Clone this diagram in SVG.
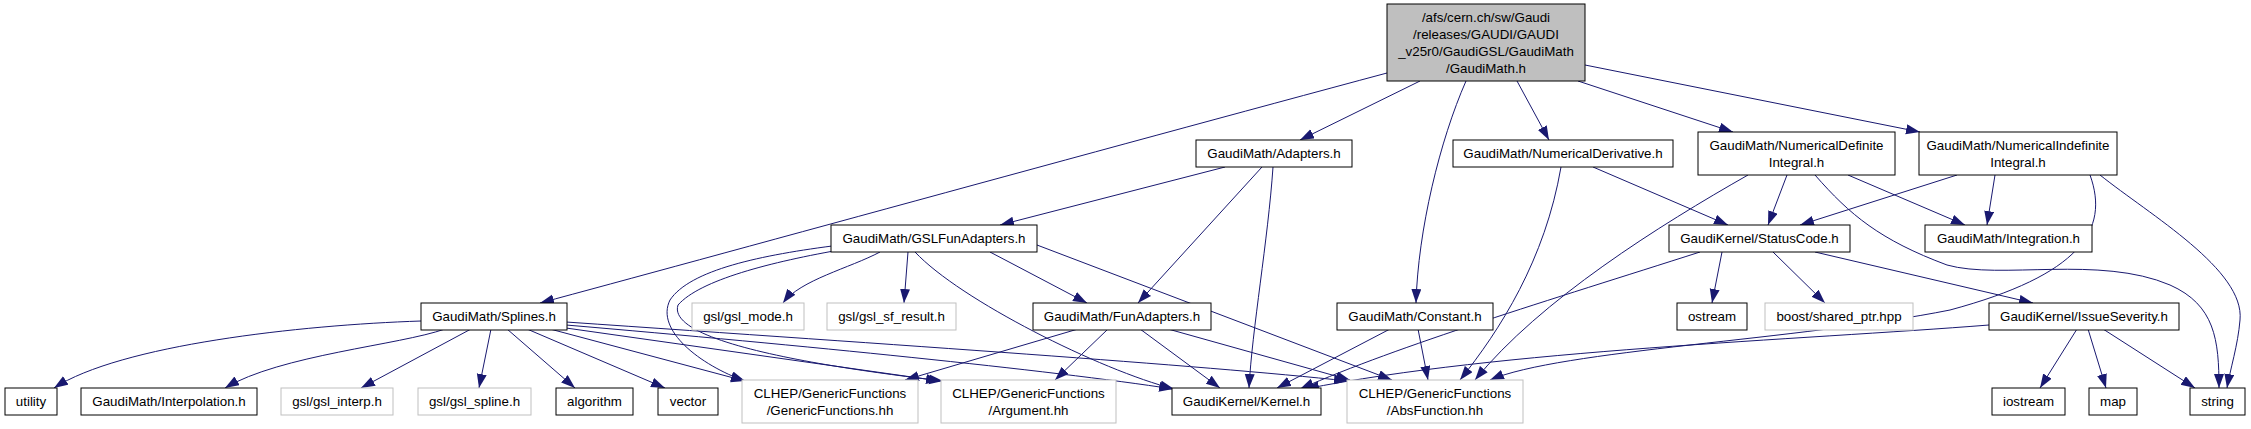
<svg xmlns="http://www.w3.org/2000/svg" width="2251" height="429" viewBox="0 0 2251 429">
<style>
.n rect{fill:#fff;stroke:#000;stroke-width:1}
.g rect{fill:#fff;stroke:#bfbfbf;stroke-width:1}
.r rect{fill:#bfbfbf;stroke:#000;stroke-width:1}
text{font-family:"Liberation Sans",Arial,Helvetica,sans-serif;font-size:13.33px;text-anchor:middle;fill:#000}
#edges path{fill:none;stroke:#191970;stroke-width:1;marker-end:url(#a)}
</style>
<defs>
<marker id="a" markerUnits="userSpaceOnUse" markerWidth="15" markerHeight="11" refX="14" refY="5" orient="auto"><path d="M0,0 L14,5 L0,10 z" fill="#191970"/></marker>
</defs>
<rect width="2251" height="429" fill="#fff"/>
<g id="edges">
<path d="M1387,73 C1100,150 700,260 540,303"/>
<path d="M1420,81 L1300,140"/>
<path d="M1517,81 L1549,140"/>
<path d="M1466,81 C1440,140 1418,230 1416,303"/>
<path d="M1578,81 L1733,132"/>
<path d="M1585,65 L1920,132"/>
<path d="M1225,167 L1000,225"/>
<path d="M1262,167 L1138,303"/>
<path d="M1273,167 C1268,240 1252,330 1249,388"/>
<path d="M1593,167 L1728,225"/>
<path d="M1561,167 C1545,260 1500,330 1460,380"/>
<path d="M1787,175 L1768,225"/>
<path d="M1848,175 L1965,225"/>
<path d="M1815,175 C1850,215 1880,240 1947,265 C2000,280 2100,255 2170,285 C2215,305 2219,340 2219,388"/>
<path d="M1748,175 C1660,225 1540,300 1475,380"/>
<path d="M1957,175 L1800,225"/>
<path d="M1995,175 L1987,225"/>
<path d="M2100,175 C2150,215 2245,270 2240,320 C2238,345 2230,370 2227,388"/>
<path d="M2090,175 C2110,230 2080,275 1950,310 C1800,340 1560,350 1490,380"/>
<path d="M880,252 C850,268 800,280 783,303"/>
<path d="M908,252 L904,303"/>
<path d="M990,252 L1087,303"/>
<path d="M915,252 C960,300 1100,370 1174,389"/>
<path d="M1037,245 L1392,380"/>
<path d="M840,245 C760,255 690,270 670,300 C655,330 700,365 745,381"/>
<path d="M845,249 C770,262 700,280 678,305 C665,345 850,370 943,381"/>
<path d="M1722,252 L1712,303"/>
<path d="M1773,252 L1825,303"/>
<path d="M1815,252 L2033,303"/>
<path d="M1700,252 C1550,300 1400,345 1300,389"/>
<path d="M421,321 C300,325 120,345 54,388"/>
<path d="M445,329 C400,345 280,355 225,388"/>
<path d="M471,329 L361,388"/>
<path d="M491,329 L479,388"/>
<path d="M507,329 L575,388"/>
<path d="M527,329 L665,388"/>
<path d="M550,329 L745,381"/>
<path d="M566,328 L940,381"/>
<path d="M566,325 C800,345 1050,370 1173,389"/>
<path d="M566,322 C900,345 1200,365 1348,381"/>
<path d="M1078,329 L905,380"/>
<path d="M1108,329 L1055,380"/>
<path d="M1140,329 L1220,388"/>
<path d="M1168,329 L1350,380"/>
<path d="M1390,329 L1277,388"/>
<path d="M1418,329 L1428,380"/>
<path d="M1989,325 C1800,340 1500,350 1305,389"/>
<path d="M2077,329 L2040,388"/>
<path d="M2088,329 L2106,388"/>
<path d="M2103,329 L2195,388"/>
</g>
<g id="top" class="r"><rect x="1387" y="4" width="198" height="77"/><text x="1486" y="21.5">/afs/cern.ch/sw/Gaudi</text><text x="1486" y="38.5">/releases/GAUDI/GAUDI</text><text x="1486" y="55.5">_v25r0/GaudiGSL/GaudiMath</text><text x="1486" y="72.5">/GaudiMath.h</text></g>
<g id="adapters" class="n"><rect x="1196" y="140" width="156" height="27"/><text x="1274" y="158">GaudiMath/Adapters.h</text></g>
<g id="numderiv" class="n"><rect x="1453" y="140" width="220" height="27"/><text x="1563" y="158">GaudiMath/NumericalDerivative.h</text></g>
<g id="numdef" class="n"><rect x="1698" y="132" width="197" height="43"/><text x="1796.5" y="149.5">GaudiMath/NumericalDefinite</text><text x="1796.5" y="166.5">Integral.h</text></g>
<g id="numindef" class="n"><rect x="1919" y="132" width="198" height="43"/><text x="2018" y="149.5">GaudiMath/NumericalIndefinite</text><text x="2018" y="166.5">Integral.h</text></g>
<g id="gslfun" class="n"><rect x="831" y="225" width="206" height="27"/><text x="934" y="243">GaudiMath/GSLFunAdapters.h</text></g>
<g id="statuscode" class="n"><rect x="1669" y="225" width="181" height="27"/><text x="1759.5" y="243">GaudiKernel/StatusCode.h</text></g>
<g id="integration" class="n"><rect x="1925" y="225" width="167" height="27"/><text x="2008.5" y="243">GaudiMath/Integration.h</text></g>
<g id="splines" class="n"><rect x="421" y="303" width="146" height="27"/><text x="494" y="321">GaudiMath/Splines.h</text></g>
<g id="gslmode" class="g"><rect x="692" y="303" width="112" height="27"/><text x="748" y="321">gsl/gsl_mode.h</text></g>
<g id="gslsf" class="g"><rect x="827" y="303" width="129" height="27"/><text x="891.5" y="321">gsl/gsl_sf_result.h</text></g>
<g id="funadapters" class="n"><rect x="1033" y="303" width="178" height="27"/><text x="1122" y="321">GaudiMath/FunAdapters.h</text></g>
<g id="constant" class="n"><rect x="1337" y="303" width="156" height="27"/><text x="1415" y="321">GaudiMath/Constant.h</text></g>
<g id="ostream" class="n"><rect x="1677" y="303" width="70" height="27"/><text x="1712" y="321">ostream</text></g>
<g id="boost" class="g"><rect x="1765" y="303" width="148" height="27"/><text x="1839" y="321">boost/shared_ptr.hpp</text></g>
<g id="issue" class="n"><rect x="1989" y="303" width="190" height="27"/><text x="2084" y="321">GaudiKernel/IssueSeverity.h</text></g>
<g id="utility" class="n"><rect x="5" y="388" width="52" height="27"/><text x="31" y="406">utility</text></g>
<g id="interpolation" class="n"><rect x="81" y="388" width="176" height="27"/><text x="169" y="406">GaudiMath/Interpolation.h</text></g>
<g id="gslinterp" class="g"><rect x="281" y="388" width="112" height="27"/><text x="337" y="406">gsl/gsl_interp.h</text></g>
<g id="gslspline" class="g"><rect x="418" y="388" width="113" height="27"/><text x="474.5" y="406">gsl/gsl_spline.h</text></g>
<g id="algorithm" class="n"><rect x="556" y="388" width="77" height="27"/><text x="594.5" y="406">algorithm</text></g>
<g id="vector" class="n"><rect x="658" y="388" width="60" height="27"/><text x="688" y="406">vector</text></g>
<g id="genfun" class="g"><rect x="742" y="380" width="176" height="43"/><text x="830" y="397.5">CLHEP/GenericFunctions</text><text x="830" y="414.5">/GenericFunctions.hh</text></g>
<g id="argument" class="g"><rect x="941" y="380" width="175" height="43"/><text x="1028.5" y="397.5">CLHEP/GenericFunctions</text><text x="1028.5" y="414.5">/Argument.hh</text></g>
<g id="kernel" class="n"><rect x="1172" y="388" width="149" height="27"/><text x="1246.5" y="406">GaudiKernel/Kernel.h</text></g>
<g id="absfn" class="g"><rect x="1347" y="380" width="176" height="43"/><text x="1435" y="397.5">CLHEP/GenericFunctions</text><text x="1435" y="414.5">/AbsFunction.hh</text></g>
<g id="iostream" class="n"><rect x="1992" y="388" width="73" height="27"/><text x="2028.5" y="406">iostream</text></g>
<g id="map" class="n"><rect x="2089" y="388" width="48" height="27"/><text x="2113" y="406">map</text></g>
<g id="string" class="n"><rect x="2190" y="388" width="55" height="27"/><text x="2217.5" y="406">string</text></g>
</svg>
